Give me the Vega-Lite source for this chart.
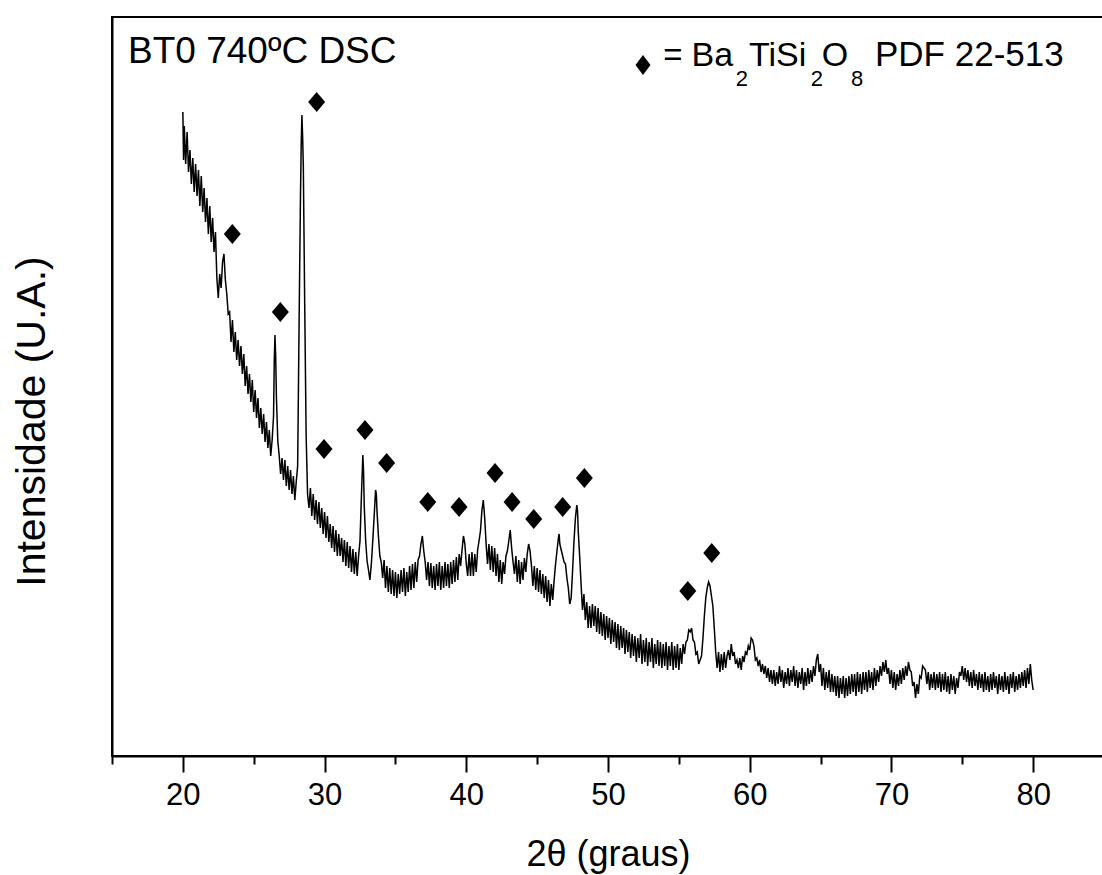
{
"$schema": "https://vega.github.io/schema/vega-lite/v6.json",
"width": 992, "height": 739,
"autosize": "none",
"padding": {"left": 112, "top": 17, "right": 0, "bottom": 119},
"background": "white",
"view": {"stroke": "black", "strokeWidth": 2},
"config": {"font": "Liberation Sans", "axis": {"grid": false, "domainColor": "black", "tickColor": "black", "labelColor": "black", "titleColor": "black", "titleFontWeight": "normal", "labelFont": "Liberation Sans", "titleFont": "Liberation Sans"}},
"datasets": {
"xrd": [
{"x":20.0,"y":644},{"x":20.05,"y":596},{"x":20.1,"y":630},{"x":20.2,"y":592},{"x":20.3,"y":624},{"x":20.4,"y":584},{"x":20.5,"y":606},{"x":20.6,"y":572},{"x":20.7,"y":598},{"x":20.8,"y":564},{"x":20.9,"y":592},
{"x":21.0,"y":560},{"x":21.1,"y":586},{"x":21.2,"y":550},{"x":21.3,"y":580},{"x":21.4,"y":544},{"x":21.5,"y":568},{"x":21.6,"y":534},{"x":21.7,"y":558},{"x":21.8,"y":522},{"x":21.9,"y":550},
{"x":22.0,"y":514},{"x":22.1,"y":538},{"x":22.2,"y":504},{"x":22.3,"y":524},{"x":22.4,"y":478},{"x":22.5,"y":458},{"x":22.6,"y":482},{"x":22.7,"y":468},{"x":22.8,"y":494},{"x":22.9,"y":502},
{"x":23.0,"y":476},{"x":23.1,"y":462},{"x":23.2,"y":442},{"x":23.3,"y":444},{"x":23.4,"y":414},{"x":23.5,"y":436},{"x":23.6,"y":404},{"x":23.7,"y":424},{"x":23.8,"y":396},{"x":23.9,"y":416},
{"x":24.0,"y":390},{"x":24.1,"y":410},{"x":24.2,"y":382},{"x":24.3,"y":402},{"x":24.4,"y":370},{"x":24.5,"y":390},{"x":24.6,"y":362},{"x":24.7,"y":382},{"x":24.8,"y":354},{"x":24.9,"y":376},
{"x":25.0,"y":344},{"x":25.1,"y":366},{"x":25.2,"y":338},{"x":25.3,"y":358},{"x":25.4,"y":328},{"x":25.5,"y":348},{"x":25.6,"y":322},{"x":25.7,"y":342},{"x":25.8,"y":314},{"x":25.9,"y":334},
{"x":26.0,"y":308},{"x":26.1,"y":326},{"x":26.2,"y":300},{"x":26.3,"y":316},{"x":26.4,"y":340},{"x":26.45,"y":395},{"x":26.5,"y":421},{"x":26.55,"y":400},{"x":26.6,"y":360},{"x":26.7,"y":315},{"x":26.8,"y":300},{"x":26.9,"y":282},
{"x":27.0,"y":298},{"x":27.1,"y":276},{"x":27.2,"y":296},{"x":27.3,"y":270},{"x":27.4,"y":290},{"x":27.5,"y":266},{"x":27.6,"y":286},{"x":27.7,"y":262},{"x":27.8,"y":280},{"x":27.9,"y":256},
{"x":28.0,"y":274},{"x":28.1,"y":290},{"x":28.2,"y":430},{"x":28.3,"y":560},{"x":28.35,"y":610},{"x":28.4,"y":641},{"x":28.45,"y":620},{"x":28.5,"y":590},{"x":28.6,"y":450},{"x":28.7,"y":320},{"x":28.8,"y":262},{"x":28.9,"y":248},
{"x":29.0,"y":268},{"x":29.1,"y":240},{"x":29.2,"y":262},{"x":29.3,"y":236},{"x":29.4,"y":256},{"x":29.5,"y":232},{"x":29.6,"y":254},{"x":29.7,"y":228},{"x":29.8,"y":248},{"x":29.9,"y":222},
{"x":30.0,"y":244},{"x":30.1,"y":218},{"x":30.2,"y":240},{"x":30.3,"y":214},{"x":30.4,"y":232},{"x":30.5,"y":208},{"x":30.6,"y":230},{"x":30.7,"y":204},{"x":30.8,"y":226},{"x":30.9,"y":200},
{"x":31.0,"y":222},{"x":31.1,"y":200},{"x":31.2,"y":218},{"x":31.3,"y":194},{"x":31.4,"y":216},{"x":31.5,"y":190},{"x":31.6,"y":214},{"x":31.7,"y":188},{"x":31.8,"y":210},{"x":31.9,"y":184},
{"x":32.0,"y":207},{"x":32.1,"y":182},{"x":32.2,"y":204},{"x":32.3,"y":180},{"x":32.4,"y":200},{"x":32.5,"y":215},{"x":32.6,"y":260},{"x":32.7,"y":301},{"x":32.75,"y":285},{"x":32.8,"y":250},{"x":32.9,"y":215},
{"x":33.0,"y":195},{"x":33.1,"y":186},{"x":33.2,"y":176},{"x":33.3,"y":192},{"x":33.4,"y":215},{"x":33.5,"y":240},{"x":33.6,"y":266},{"x":33.65,"y":262},{"x":33.7,"y":245},{"x":33.8,"y":220},{"x":33.9,"y":200},
{"x":34.0,"y":194},{"x":34.1,"y":178},{"x":34.2,"y":196},{"x":34.3,"y":168},{"x":34.4,"y":190},{"x":34.5,"y":164},{"x":34.6,"y":188},{"x":34.7,"y":162},{"x":34.8,"y":186},{"x":34.9,"y":160},
{"x":35.0,"y":184},{"x":35.1,"y":158},{"x":35.2,"y":182},{"x":35.3,"y":162},{"x":35.4,"y":186},{"x":35.5,"y":164},{"x":35.6,"y":188},{"x":35.7,"y":160},{"x":35.8,"y":184},{"x":35.9,"y":164},
{"x":36.0,"y":190},{"x":36.1,"y":166},{"x":36.2,"y":192},{"x":36.3,"y":168},{"x":36.4,"y":194},{"x":36.5,"y":174},{"x":36.6,"y":196},{"x":36.7,"y":200},{"x":36.8,"y":212},{"x":36.9,"y":220},
{"x":37.0,"y":205},{"x":37.1,"y":194},{"x":37.2,"y":176},{"x":37.3,"y":194},{"x":37.4,"y":170},{"x":37.5,"y":193},{"x":37.6,"y":168},{"x":37.7,"y":190},{"x":37.8,"y":166},{"x":37.9,"y":192},
{"x":38.0,"y":170},{"x":38.1,"y":194},{"x":38.2,"y":166},{"x":38.3,"y":190},{"x":38.4,"y":168},{"x":38.5,"y":194},{"x":38.6,"y":170},{"x":38.7,"y":192},{"x":38.8,"y":168},{"x":38.9,"y":194},
{"x":39.0,"y":172},{"x":39.1,"y":196},{"x":39.2,"y":174},{"x":39.3,"y":199},{"x":39.4,"y":176},{"x":39.5,"y":202},{"x":39.6,"y":190},{"x":39.7,"y":206},{"x":39.8,"y":220},{"x":39.9,"y":212},
{"x":40.0,"y":192},{"x":40.1,"y":180},{"x":40.2,"y":202},{"x":40.3,"y":180},{"x":40.4,"y":204},{"x":40.5,"y":180},{"x":40.6,"y":202},{"x":40.7,"y":184},{"x":40.8,"y":206},{"x":40.9,"y":215},
{"x":41.0,"y":225},{"x":41.1,"y":245},{"x":41.2,"y":256},{"x":41.3,"y":238},{"x":41.4,"y":212},{"x":41.5,"y":192},{"x":41.6,"y":212},{"x":41.7,"y":186},{"x":41.8,"y":210},{"x":41.9,"y":184},
{"x":42.0,"y":208},{"x":42.1,"y":180},{"x":42.2,"y":202},{"x":42.3,"y":174},{"x":42.4,"y":196},{"x":42.5,"y":172},{"x":42.6,"y":194},{"x":42.7,"y":182},{"x":42.8,"y":200},{"x":42.9,"y":205},
{"x":43.0,"y":215},{"x":43.1,"y":226},{"x":43.2,"y":208},{"x":43.3,"y":194},{"x":43.4,"y":182},{"x":43.5,"y":200},{"x":43.6,"y":174},{"x":43.7,"y":196},{"x":43.8,"y":172},{"x":43.9,"y":194},
{"x":44.0,"y":176},{"x":44.1,"y":198},{"x":44.2,"y":184},{"x":44.3,"y":202},{"x":44.4,"y":212},{"x":44.5,"y":205},{"x":44.6,"y":190},{"x":44.7,"y":170},{"x":44.8,"y":190},{"x":44.9,"y":166},
{"x":45.0,"y":188},{"x":45.1,"y":164},{"x":45.2,"y":186},{"x":45.3,"y":162},{"x":45.4,"y":182},{"x":45.5,"y":158},{"x":45.6,"y":180},{"x":45.7,"y":154},{"x":45.8,"y":176},{"x":45.9,"y":150},
{"x":46.0,"y":172},{"x":46.1,"y":156},{"x":46.2,"y":176},{"x":46.3,"y":192},{"x":46.4,"y":205},{"x":46.5,"y":218},{"x":46.55,"y":222},{"x":46.6,"y":212},{"x":46.7,"y":206},{"x":46.8,"y":200},{"x":46.9,"y":194},
{"x":47.0,"y":192},{"x":47.1,"y":178},{"x":47.2,"y":168},{"x":47.3,"y":152},{"x":47.4,"y":158},{"x":47.5,"y":185},{"x":47.6,"y":215},{"x":47.7,"y":238},{"x":47.8,"y":251},{"x":47.85,"y":245},{"x":47.9,"y":225},
{"x":48.0,"y":200},{"x":48.1,"y":172},{"x":48.2,"y":146},{"x":48.3,"y":162},{"x":48.4,"y":136},{"x":48.5,"y":154},{"x":48.6,"y":128},{"x":48.7,"y":150},{"x":48.8,"y":128},{"x":48.9,"y":152},
{"x":49.0,"y":130},{"x":49.1,"y":150},{"x":49.2,"y":124},{"x":49.3,"y":148},{"x":49.4,"y":122},{"x":49.5,"y":144},{"x":49.6,"y":120},{"x":49.7,"y":142},{"x":49.8,"y":116},{"x":49.9,"y":140},
{"x":50.0,"y":118},{"x":50.1,"y":138},{"x":50.2,"y":112},{"x":50.3,"y":136},{"x":50.4,"y":114},{"x":50.5,"y":134},{"x":50.6,"y":108},{"x":50.7,"y":132},{"x":50.8,"y":106},{"x":50.9,"y":130},
{"x":51.0,"y":108},{"x":51.1,"y":128},{"x":51.2,"y":102},{"x":51.3,"y":126},{"x":51.4,"y":104},{"x":51.5,"y":124},{"x":51.6,"y":98},{"x":51.7,"y":122},{"x":51.8,"y":100},{"x":51.9,"y":120},
{"x":52.0,"y":94},{"x":52.1,"y":118},{"x":52.2,"y":98},{"x":52.3,"y":122},{"x":52.4,"y":92},{"x":52.5,"y":116},{"x":52.6,"y":94},{"x":52.7,"y":118},{"x":52.8,"y":90},{"x":52.9,"y":114},
{"x":53.0,"y":94},{"x":53.1,"y":118},{"x":53.2,"y":88},{"x":53.3,"y":112},{"x":53.4,"y":92},{"x":53.5,"y":116},{"x":53.6,"y":90},{"x":53.7,"y":114},{"x":53.8,"y":88},{"x":53.9,"y":112},
{"x":54.0,"y":90},{"x":54.1,"y":114},{"x":54.2,"y":86},{"x":54.3,"y":110},{"x":54.4,"y":90},{"x":54.5,"y":114},{"x":54.6,"y":86},{"x":54.7,"y":110},{"x":54.8,"y":88},{"x":54.9,"y":112},
{"x":55.0,"y":86},{"x":55.1,"y":108},{"x":55.2,"y":92},{"x":55.3,"y":112},{"x":55.4,"y":102},{"x":55.5,"y":114},{"x":55.6,"y":116},{"x":55.7,"y":126},{"x":55.8,"y":124},{"x":55.9,"y":128},
{"x":56.0,"y":116},{"x":56.1,"y":114},{"x":56.2,"y":102},{"x":56.3,"y":104},{"x":56.4,"y":92},{"x":56.5,"y":96},{"x":56.6,"y":100},{"x":56.7,"y":118},{"x":56.8,"y":140},{"x":56.9,"y":158},
{"x":57.0,"y":168},{"x":57.1,"y":174},{"x":57.2,"y":170},{"x":57.3,"y":160},{"x":57.4,"y":150},{"x":57.5,"y":128},{"x":57.6,"y":104},{"x":57.7,"y":88},{"x":57.8,"y":104},{"x":57.9,"y":84},
{"x":58.0,"y":102},{"x":58.1,"y":86},{"x":58.2,"y":104},{"x":58.3,"y":88},{"x":58.4,"y":100},{"x":58.5,"y":106},{"x":58.6,"y":96},{"x":58.7,"y":112},{"x":58.8,"y":100},{"x":58.9,"y":104},
{"x":59.0,"y":92},{"x":59.1,"y":96},{"x":59.2,"y":88},{"x":59.3,"y":98},{"x":59.4,"y":86},{"x":59.5,"y":100},{"x":59.6,"y":94},{"x":59.7,"y":104},{"x":59.8,"y":102},{"x":59.9,"y":110},
{"x":60.0,"y":106},{"x":60.1,"y":118},{"x":60.2,"y":116},{"x":60.3,"y":110},{"x":60.4,"y":96},{"x":60.5,"y":98},{"x":60.6,"y":90},{"x":60.7,"y":96},{"x":60.8,"y":84},{"x":60.9,"y":92},
{"x":61.0,"y":82},{"x":61.1,"y":90},{"x":61.2,"y":78},{"x":61.3,"y":88},{"x":61.4,"y":74},{"x":61.5,"y":86},{"x":61.6,"y":72},{"x":61.7,"y":86},{"x":61.8,"y":70},{"x":61.9,"y":84},
{"x":62.0,"y":72},{"x":62.1,"y":90},{"x":62.2,"y":74},{"x":62.3,"y":86},{"x":62.4,"y":68},{"x":62.5,"y":84},{"x":62.6,"y":72},{"x":62.7,"y":88},{"x":62.8,"y":70},{"x":62.9,"y":86},
{"x":63.0,"y":74},{"x":63.1,"y":90},{"x":63.2,"y":70},{"x":63.3,"y":86},{"x":63.4,"y":68},{"x":63.5,"y":84},{"x":63.6,"y":72},{"x":63.7,"y":88},{"x":63.8,"y":66},{"x":63.9,"y":84},
{"x":64.0,"y":70},{"x":64.1,"y":88},{"x":64.2,"y":72},{"x":64.3,"y":86},{"x":64.4,"y":74},{"x":64.5,"y":90},{"x":64.6,"y":80},{"x":64.7,"y":96},{"x":64.8,"y":102},{"x":64.9,"y":84},
{"x":65.0,"y":92},{"x":65.1,"y":70},{"x":65.2,"y":88},{"x":65.3,"y":66},{"x":65.4,"y":84},{"x":65.5,"y":68},{"x":65.6,"y":86},{"x":65.7,"y":64},{"x":65.8,"y":82},{"x":65.9,"y":64},
{"x":66.0,"y":80},{"x":66.1,"y":60},{"x":66.2,"y":80},{"x":66.3,"y":58},{"x":66.4,"y":78},{"x":66.5,"y":62},{"x":66.6,"y":80},{"x":66.7,"y":58},{"x":66.8,"y":78},{"x":66.9,"y":60},
{"x":67.0,"y":80},{"x":67.1,"y":62},{"x":67.2,"y":82},{"x":67.3,"y":64},{"x":67.4,"y":82},{"x":67.5,"y":60},{"x":67.6,"y":84},{"x":67.7,"y":64},{"x":67.8,"y":82},{"x":67.9,"y":62},
{"x":68.0,"y":84},{"x":68.1,"y":66},{"x":68.2,"y":84},{"x":68.3,"y":64},{"x":68.4,"y":86},{"x":68.5,"y":68},{"x":68.6,"y":84},{"x":68.7,"y":66},{"x":68.8,"y":88},{"x":68.9,"y":70},
{"x":69.0,"y":86},{"x":69.1,"y":74},{"x":69.2,"y":90},{"x":69.3,"y":80},{"x":69.4,"y":94},{"x":69.5,"y":84},{"x":69.6,"y":96},{"x":69.7,"y":82},{"x":69.8,"y":88},{"x":69.9,"y":72},
{"x":70.0,"y":86},{"x":70.1,"y":68},{"x":70.2,"y":84},{"x":70.3,"y":66},{"x":70.4,"y":82},{"x":70.5,"y":70},{"x":70.6,"y":86},{"x":70.7,"y":72},{"x":70.8,"y":88},{"x":70.9,"y":76},
{"x":71.0,"y":90},{"x":71.1,"y":80},{"x":71.2,"y":94},{"x":71.3,"y":86},{"x":71.4,"y":84},{"x":71.5,"y":70},{"x":71.6,"y":74},{"x":71.7,"y":58},{"x":71.8,"y":72},{"x":71.9,"y":62},
{"x":72.0,"y":80},{"x":72.1,"y":78},{"x":72.2,"y":90},{"x":72.3,"y":88},{"x":72.4,"y":86},{"x":72.5,"y":72},{"x":72.6,"y":84},{"x":72.7,"y":66},{"x":72.8,"y":82},{"x":72.9,"y":68},
{"x":73.0,"y":84},{"x":73.1,"y":66},{"x":73.2,"y":82},{"x":73.3,"y":68},{"x":73.4,"y":84},{"x":73.5,"y":64},{"x":73.6,"y":82},{"x":73.7,"y":66},{"x":73.8,"y":84},{"x":73.9,"y":64},
{"x":74.0,"y":80},{"x":74.1,"y":62},{"x":74.2,"y":82},{"x":74.3,"y":66},{"x":74.4,"y":80},{"x":74.5,"y":62},{"x":74.6,"y":78},{"x":74.7,"y":68},{"x":74.8,"y":84},{"x":74.9,"y":80},
{"x":75.0,"y":90},{"x":75.1,"y":76},{"x":75.2,"y":88},{"x":75.3,"y":74},{"x":75.4,"y":86},{"x":75.5,"y":70},{"x":75.6,"y":84},{"x":75.7,"y":68},{"x":75.8,"y":86},{"x":75.9,"y":70},
{"x":76.0,"y":82},{"x":76.1,"y":66},{"x":76.2,"y":84},{"x":76.3,"y":68},{"x":76.4,"y":82},{"x":76.5,"y":64},{"x":76.6,"y":84},{"x":76.7,"y":66},{"x":76.8,"y":80},{"x":76.9,"y":64},
{"x":77.0,"y":82},{"x":77.1,"y":66},{"x":77.2,"y":84},{"x":77.3,"y":68},{"x":77.4,"y":80},{"x":77.5,"y":62},{"x":77.6,"y":82},{"x":77.7,"y":66},{"x":77.8,"y":80},{"x":77.9,"y":64},
{"x":78.0,"y":84},{"x":78.1,"y":66},{"x":78.2,"y":80},{"x":78.3,"y":62},{"x":78.4,"y":82},{"x":78.5,"y":68},{"x":78.6,"y":84},{"x":78.7,"y":64},{"x":78.8,"y":80},{"x":78.9,"y":66},
{"x":79.0,"y":82},{"x":79.1,"y":68},{"x":79.2,"y":84},{"x":79.3,"y":70},{"x":79.4,"y":86},{"x":79.5,"y":68},{"x":79.6,"y":88},{"x":79.7,"y":72},{"x":79.8,"y":92},{"x":79.9,"y":76},{"x":80.0,"y":66}
],
"peaks": [
{"x":23.49,"y":522},{"x":26.88,"y":444},{"x":29.44,"y":654},{"x":29.96,"y":307},{"x":32.85,"y":326},{"x":34.38,"y":293},{"x":37.28,"y":254},{"x":39.49,"y":249},{"x":42.03,"y":283},{"x":43.23,"y":254},{"x":44.76,"y":237},{"x":46.80,"y":249},{"x":48.33,"y":278},{"x":55.63,"y":165},{"x":57.32,"y":203}
],
"legendmark": [{"x":52.47,"y":691}],
"notes": [
{"x":16.13,"y":693,"t":"BT0 740ºC DSC","s":37},
{"x":53.9,"y":690,"t":"=","s":33},
{"x":55.9,"y":690,"t":"Ba","s":34},
{"x":59.02,"y":670,"t":"2","s":22},
{"x":59.95,"y":690,"t":"TiSi","s":34},
{"x":64.3,"y":670,"t":"2","s":22},
{"x":65.08,"y":690,"t":"O","s":34},
{"x":67.15,"y":670,"t":"8","s":22},
{"x":68.84,"y":690,"t":"PDF 22-513","s":35}
]
},
"layer": [
{
"data": {"name": "xrd"},
"mark": {"type": "line", "color": "black", "strokeWidth": 1.5},
"encoding": {
"x": {"field": "x", "type": "quantitative", "scale": {"domain": [15, 85], "nice": false, "zero": false},
"axis": {"orient": "bottom", "values": [20,30,40,50,60,70,80], "tickSize": 16, "tickWidth": 2, "domainWidth": 2, "labelFontSize": 31, "labelPadding": 8, "labelFlush": false, "title": "2θ (graus)", "titleFontSize": 36, "titleX": 496, "titleY": 109, "titleBaseline": "alphabetic", "titleAnchor": null}},
"y": {"field": "y", "type": "quantitative", "scale": {"domain": [0, 739], "nice": false, "zero": false},
"axis": {"orient": "left", "ticks": false, "labels": false, "domainWidth": 2, "title": "Intensidade (U.A.)", "titleFontSize": 41, "titleX": -80, "titleY": 404, "titleAlign": "center", "titleBaseline": "middle", "titleAngle": -90}}
}
},
{
"data": {"name": "peaks"},
"mark": {"type": "point", "shape": "M-0.85,0L0,-1L0.85,0L0,1Z", "filled": true, "color": "black", "opacity": 1, "size": 400},
"encoding": {
"x": {"field": "x", "type": "quantitative", "axis": {"orient": "bottom", "values": [15,25,35,45,55,65,75,85], "labels": false, "domain": false, "tickSize": 8, "tickWidth": 2, "title": null}},
"y": {"field": "y", "type": "quantitative", "axis": null}
}
},
{
"data": {"name": "legendmark"},
"mark": {"type": "point", "shape": "M-0.75,0L0,-1L0.75,0L0,1Z", "filled": true, "color": "black", "opacity": 1, "size": 400},
"encoding": {
"x": {"field": "x", "type": "quantitative", "axis": null},
"y": {"field": "y", "type": "quantitative", "axis": null}
}
},
{
"data": {"name": "notes"},
"mark": {"type": "text", "align": "left", "baseline": "alphabetic", "color": "black", "font": "Liberation Sans"},
"encoding": {
"x": {"field": "x", "type": "quantitative", "axis": null},
"y": {"field": "y", "type": "quantitative", "axis": null},
"text": {"field": "t"},
"size": {"field": "s", "type": "quantitative", "scale": null, "legend": null}
}
}
],
"resolve": {"axis": {"x": "independent", "y": "independent"}}
}
